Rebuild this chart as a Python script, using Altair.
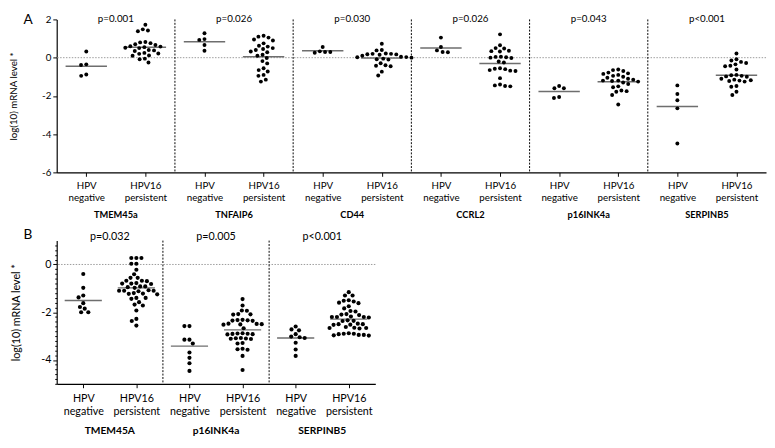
import math
import altair as alt
import pandas as pd

FONT = "Lato"

# ---------------- Panel A data ----------------
genes_a = ["TMEM45a", "TNFAIP6", "CD44", "CCRL2", "p16INK4a", "SERPINB5"]
pvals_a = ["p=0.001", "p=0.026", "p=0.030", "p=0.026", "p=0.043", "p<0.001"]

a_tmem_neg = [0.32, -0.35, -0.38, -0.88, -0.95]
a_tmem_pers = [1.72, 1.48, 1.42, 1.38, 0.82, 0.80, 0.76, 0.70, 0.66, 0.60, 0.58, 0.55,
               0.52, 0.50, 0.40, 0.38, 0.35, 0.25, 0.22, 0.20, 0.12, 0.10, -0.05, -0.08, -0.25]
a_tnf_neg = [1.28, 0.97, 0.93, 0.66, 0.36]
a_tnf_pers = [1.15, 1.10, 1.05, 0.95, 0.90, 0.75, 0.62, 0.58, 0.50, 0.45, 0.40, 0.32, 0.28,
              0.15, 0.10, -0.02, -0.18, -0.30, -0.55, -0.65, -0.72, -0.90, -0.95, -1.15, -1.25]
a_cd44_neg = [0.56, 0.33, 0.30, 0.30, 0.26]
a_cd44_pers = [0.73, 0.40, 0.38, 0.22, 0.20, 0.20, 0.18, 0.17, 0.15, 0.10, 0.05, 0.03, 0.02,
               0.0, -0.05, -0.08, -0.10, -0.29, -0.40, -0.42, -0.45, -0.73, -0.93]
a_ccrl2_neg = [1.05, 0.56, 0.38, 0.30, 0.28]
a_ccrl2_pers = [1.22, 0.65, 0.50, 0.48, 0.36, 0.34, 0.32, 0.05, 0.04, 0.02, 0.0, -0.02, -0.20,
                -0.25, -0.55, -0.58, -0.60, -0.65, -0.68, -0.70, -1.07, -1.40, -1.45, -1.48, -1.50]
a_p16_neg = [-1.48, -1.60, -1.60, -2.06, -2.11]
a_p16_pers = [-0.62, -0.65, -0.70, -0.78, -0.82, -0.85, -0.90, -0.95, -1.0, -1.05, -1.10, -1.15,
              -1.20, -1.20, -1.22, -1.25, -1.30, -1.38, -1.50, -1.55, -1.72, -1.75, -1.78, -1.95, -2.45]
a_serp_neg = [-1.45, -1.90, -2.23, -2.65, -4.49]
a_serp_pers = [0.22, -0.08, -0.15, -0.22, -0.28, -0.35, -0.42, -0.45, -0.62, -0.90, -0.92, -0.95,
               -0.98, -1.0, -1.10, -1.15, -1.18, -1.20, -1.22, -1.25, -1.48, -1.52, -1.78, -1.95]

a_values = [[a_tmem_neg, a_tmem_pers], [a_tnf_neg, a_tnf_pers], [a_cd44_neg, a_cd44_pers],
            [a_ccrl2_neg, a_ccrl2_pers], [a_p16_neg, a_p16_pers], [a_serp_neg, a_serp_pers]]
a_means = [[-0.45, 0.54], [0.83, 0.05], [0.36, -0.02], [0.51, -0.31], [-1.77, -1.26], [-2.55, -0.92]]

# ---------------- Panel B data ----------------
genes_b = ["TMEM45A", "p16INK4a", "SERPINB5"]
pvals_b = ["p=0.032", "p=0.005", "p<0.001"]

b_tmem_neg = [-0.40, -0.98, -1.30, -1.38, -1.62, -1.78, -1.85, -2.0, -2.0]
b_tmem_pers = [0.27, 0.27, 0.27, 0.03, 0.03, -0.22, -0.41, -0.56, -0.56, -0.68, -0.68, -0.70,
               -0.80, -0.78, -0.82, -0.80, -0.95, -0.92, -0.92, -0.98, -1.10, -1.10, -1.12,
               -1.10, -1.08, -1.23, -1.25, -1.22, -1.20, -1.40, -1.40, -1.44, -1.58, -1.68,
               -1.72, -1.93, -2.28, -2.37, -2.56]
b_p16_neg = [-2.58, -2.58, -3.15, -3.15, -3.31, -3.69, -3.91, -4.14, -4.46]
b_p16_pers = [-1.45, -1.72, -1.93, -1.94, -2.08, -2.09, -2.10, -2.32, -2.33, -2.34, -2.35, -2.36,
              -2.48, -2.49, -2.50, -2.51, -2.52, -2.67, -2.88, -2.89, -2.90, -2.91, -2.92,
              -2.93, -3.08, -3.09, -3.10, -3.11, -3.12, -3.29, -3.31, -3.53, -3.55, -3.57,
              -3.83, -4.42]
b_serp_neg = [-2.60, -2.72, -2.76, -2.92, -3.02, -3.05, -3.08, -3.28, -3.56, -3.83]
b_serp_pers = [-1.16, -1.30, -1.30, -1.50, -1.52, -1.55, -1.60, -1.62, -1.75, -1.84, -1.95,
               -1.97, -2.08, -2.10, -2.12, -2.20, -2.20, -2.22, -2.20, -2.18, -2.36, -2.34,
               -2.37, -2.50, -2.52, -2.48, -2.53, -2.50, -2.66, -2.68, -2.65, -2.62, -2.66,
               -2.90, -2.95, -2.98, -2.97, -2.95, -2.92, -2.90, -2.88]

b_values = [[b_tmem_neg, b_tmem_pers], [b_p16_neg, b_p16_pers], [b_serp_neg, b_serp_pers]]
b_means = [[-1.51, -0.98], [-3.42, -2.74], [-3.08, -2.29]]


def swarm(vals, ppu, d):
    """Greedy beeswarm: horizontal pixel offsets so that dots do not overlap."""
    order = sorted(range(len(vals)), key=lambda i: -vals[i])
    placed = []
    xs = [0.0] * len(vals)
    for i in order:
        y = vals[i] * ppu
        cands = [0.0]
        for px, py in placed:
            dy = abs(py - y)
            if dy < d:
                dx = math.sqrt(d * d - dy * dy)
                cands += [px + dx, px - dx]
        best = 0.0
        for c in sorted(cands, key=lambda c: (abs(c), c)):
            if all((c - px) ** 2 + (y - py) ** 2 >= d * d - 1e-6 for px, py in placed):
                best = c
                break
        xs[i] = best
        placed.append((best, y))
    return xs


def build(label, genes, pvals, values, means, width, height, ydom, yvals, minor,
          fs, gene_fs, dot, d, title_pad, lab_y, p_y, gene_y, line_h, lab_pad):
    n = len(genes)
    band = width / (2 * n)
    ppu = height / (ydom[1] - ydom[0])
    rows = []
    for g, pair in enumerate(values):
        for k, vals in enumerate(pair):
            offs = swarm(vals, ppu, d)
            for v, o in zip(vals, offs):
                rows.append({"x": 2 * g + k + 0.5 + o / band, "v": v})
    pts = pd.DataFrame(rows)
    mean_df = pd.DataFrame([{"x": 2 * g + k + 0.5 - 0.35, "x2": 2 * g + k + 0.5 + 0.35,
                             "m": means[g][k]} for g in range(n) for k in range(2)])
    sep_df = pd.DataFrame({"x": [2 * g for g in range(1, n)]})
    zero_df = pd.DataFrame({"v": [0]})
    gene_df = pd.DataFrame({"x": [2 * g + 1 for g in range(n)], "gene": genes, "p": pvals})
    lab_df = pd.DataFrame({"t": [label]})

    xs = alt.Scale(domain=[0, 2 * n], nice=False, zero=False)
    ys = alt.Scale(domain=ydom, nice=False, zero=False)
    xaxis = alt.Axis(values=[i + 0.5 for i in range(2 * n)],
                     labelExpr="(datum.value % 2) < 1 ? ['HPV', 'negative'] : ['HPV16', 'persistent']",
                     labelLineHeight=line_h, labelFontSize=fs, labelFont=FONT, labelPadding=lab_pad,
                     labelOverlap=False, labelFlush=False, tickSize=4, title=None, grid=False)
    if minor:
        yaxis = alt.Axis(values=yvals, labelExpr="datum.value % 2 == 0 ? '' + datum.value : ''",
                         tickSize={"condition": {"test": "datum.value % 2 == 0", "value": 4}, "value": 2},
                         labelFontSize=fs, labelFont=FONT, labelOverlap=False, labelPadding=2,
                         title="log(10) mRNA level *", titleFontSize=fs, titleFont=FONT,
                         titleFontWeight="normal", titlePadding=title_pad, grid=False)
    else:
        yaxis = alt.Axis(values=yvals, labelExpr="'' + datum.value", tickSize=4,
                         labelFontSize=fs, labelFont=FONT, labelOverlap=False, labelPadding=2,
                         title="log(10) mRNA level *", titleFontSize=fs, titleFont=FONT,
                         titleFontWeight="normal", titlePadding=title_pad, grid=False)
    X = lambda f: alt.X(f, scale=xs, axis=xaxis)
    Y = lambda f: alt.Y(f, scale=ys, axis=yaxis)

    zero = alt.Chart(zero_df).mark_rule(color="#9a9a9a", strokeDash=[1.5, 1.5], strokeWidth=1).encode(y=Y("v:Q"))
    seps = alt.Chart(sep_df).mark_rule(color="black", strokeDash=[2, 1.5], strokeWidth=1).encode(x=X("x:Q"))
    mlines = alt.Chart(mean_df).mark_rule(color="#6e6e6e", strokeWidth=1.5).encode(
        x=X("x:Q"), x2="x2:Q", y=Y("m:Q"))
    dots = alt.Chart(pts).mark_circle(color="black", opacity=1, size=dot).encode(x=X("x:Q"), y=Y("v:Q"))
    ptext = alt.Chart(gene_df).mark_text(font=FONT, fontSize=fs, baseline="middle", color="black").encode(
        x=X("x:Q"), y=alt.value(p_y), text="p:N")
    gtext = alt.Chart(gene_df).mark_text(font=FONT, fontSize=gene_fs, fontWeight="bold",
                                         baseline="middle", color="black").encode(
        x=X("x:Q"), y=alt.value(height + gene_y), text="gene:N")
    ltext = alt.Chart(lab_df).mark_text(font=FONT, fontSize=14, align="left", baseline="middle",
                                        color="black").encode(
        x=alt.value(-34), y=alt.value(lab_y), text="t:N")
    return alt.layer(zero, seps, mlines, dots, ptext, gtext, ltext).properties(width=width, height=height)


top = build("A", genes_a, pvals_a, a_values, a_means, 728, 157, [-6, 2], [-6, -4, -2, 0, 2], False,
            10, 9.5, 16, 5.4, 24, 1, 0, 44, 12, 5)
b_ticks = [round(-5 + 0.2 * i, 1) for i in range(30)]
bottom = build("B", genes_b, pvals_b, b_values, b_means, 327, 147, [-5, 1], b_ticks, True,
               11, 10.5, 18, 5.2, 20, -6, -4, 49, 13, 5)

chart = alt.vconcat(top, bottom, spacing=8).properties(padding=0).configure_view(
    stroke=None).configure_axis(domainColor="black", tickColor="black", labelColor="black",
                                titleColor="black", domainWidth=1.2, tickWidth=1)

chart.save("out.html", embed_options={"renderer": "svg", "actions": False})
